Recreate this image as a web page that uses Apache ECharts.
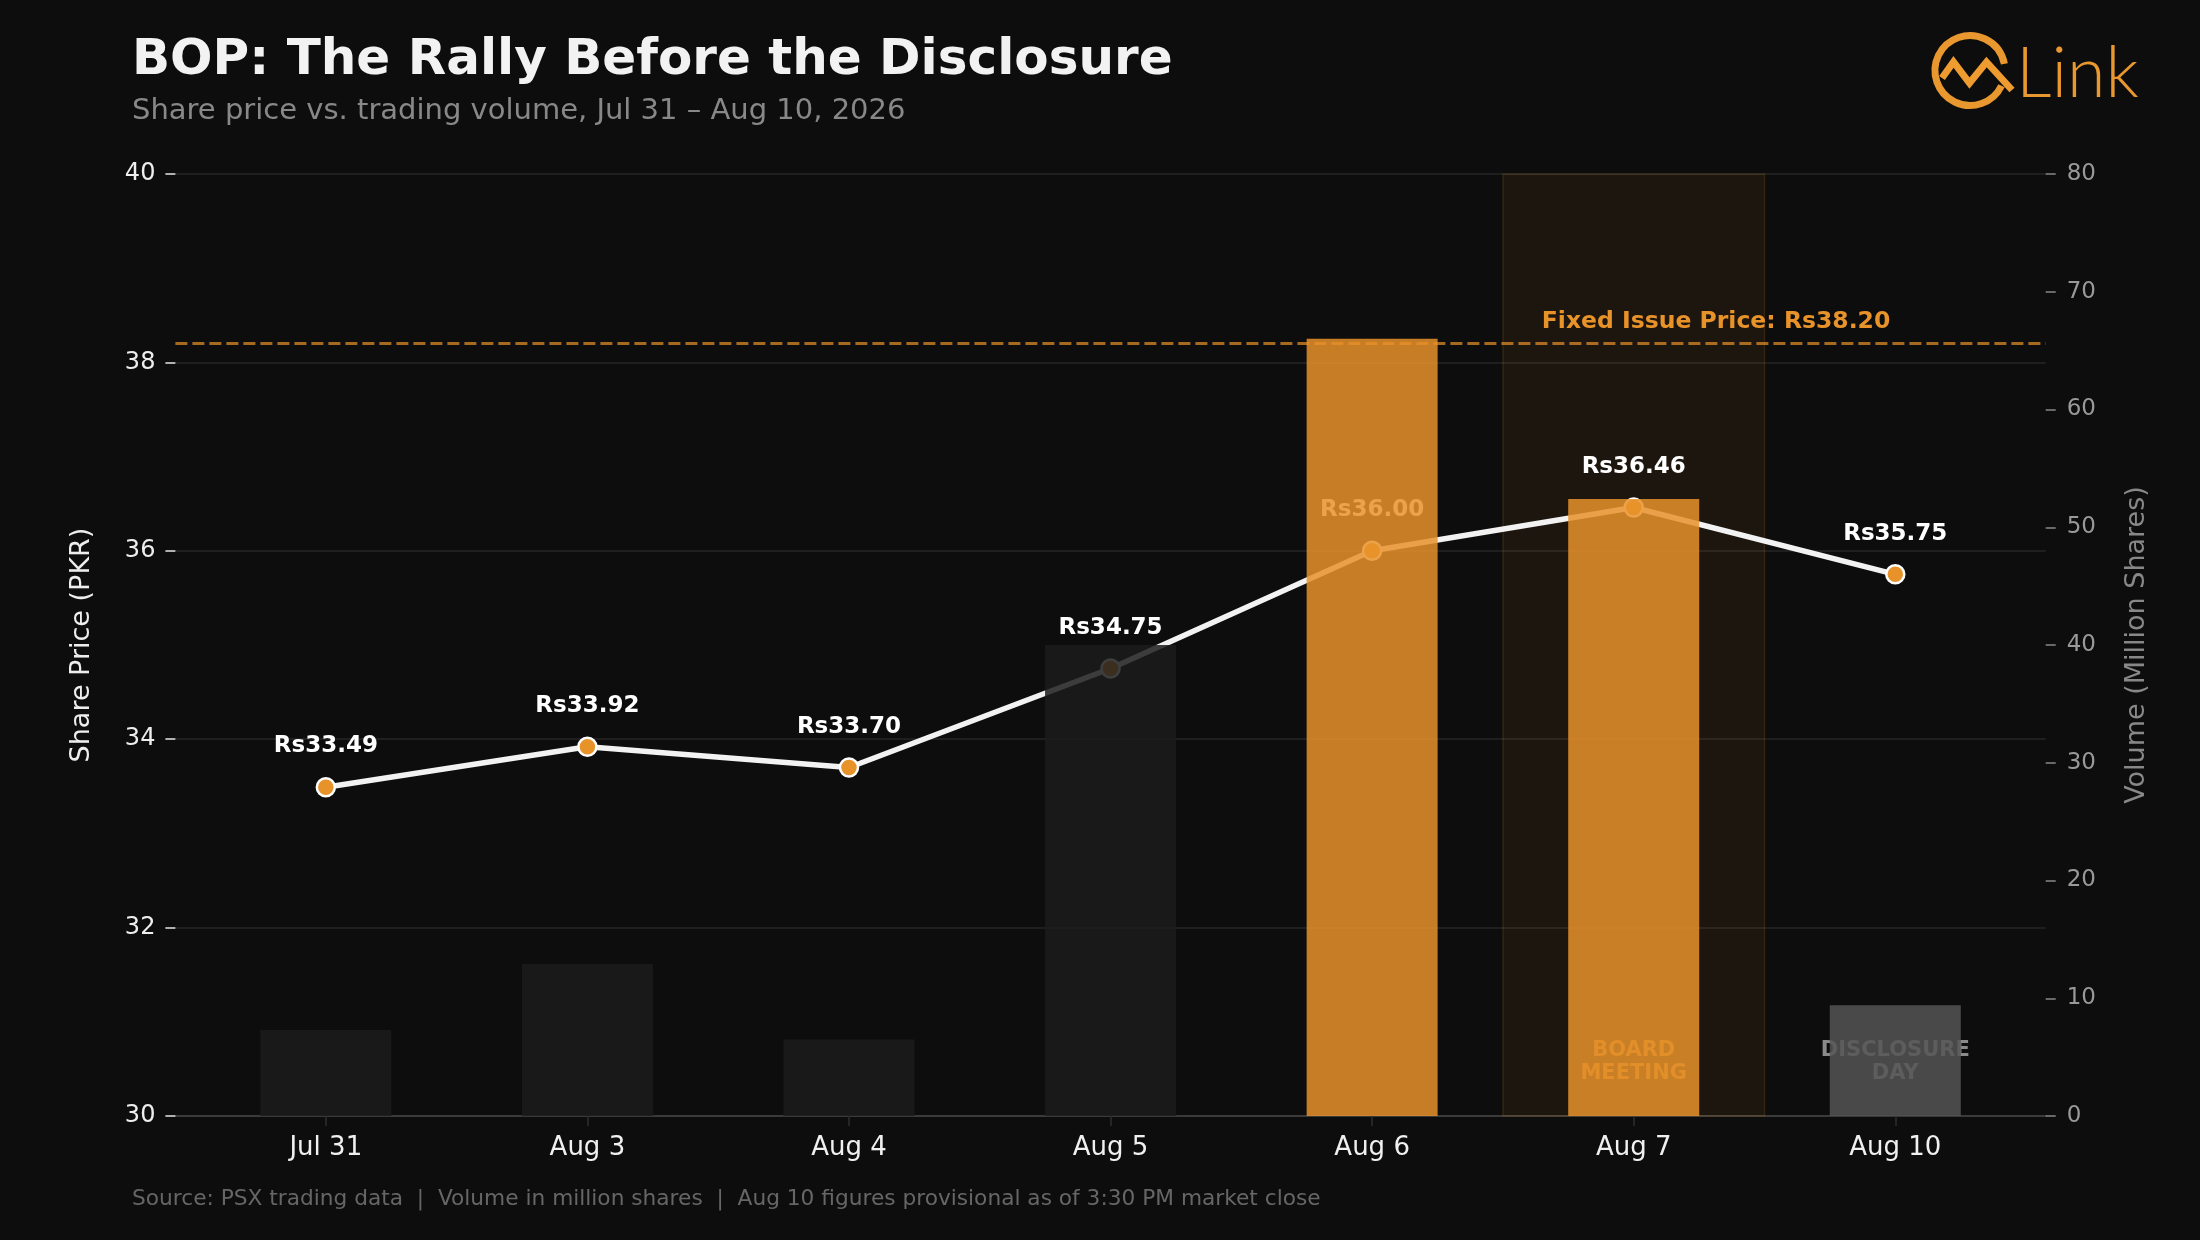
<!DOCTYPE html>
<html>
<head>
<meta charset="utf-8">
<script src="https://cdn.jsdelivr.net/npm/echarts@6/dist/echarts.min.js"></script>
<style>
  html, body { margin: 0; padding: 0; background: #0d0d0d; }
  #chart { width: 2200px; height: 1240px; }
</style>
</head>
<body>
<div id="chart"></div>
<script>
// ---- data ----
const categories = ['Jul 31', 'Aug 3', 'Aug 4', 'Aug 5', 'Aug 6', 'Aug 7', 'Aug 10'];
const priceValues = [33.49, 33.92, 33.70, 34.75, 36.00, 36.46, 35.75];
const volumeValues = [7.3, 12.9, 6.5, 40.0, 66.0, 52.4, 9.4];
const issuePrice = 38.20;
const highlightDays = ['Aug 6', 'Aug 7'];
const disclosureDay = 'Aug 10';
const meetingDay = 'Aug 7';
const noteDays = ['Aug 7', 'Aug 10'];
const noteTexts = ['BOARD\nMEETING', 'DISCLOSURE\nDAY'];

const FONT = '"DejaVu Sans", sans-serif';
const ORANGE = '#E8922A';
const idx = categories.map((_, i) => i);

function barColor(cat) {
  if (highlightDays.includes(cat)) return 'rgba(232,146,42,0.85)';
  if (cat === disclosureDay) return 'rgba(85,85,85,0.85)';
  return 'rgba(28,28,28,0.85)';
}

const mi = categories.indexOf(meetingDay);

const chart = echarts.init(document.getElementById('chart'), null, { renderer: 'canvas' });
chart.setOption({
  animation: false,
  backgroundColor: '#0d0d0d',
  textStyle: { fontFamily: FONT },
  grid: { left: 175.4, right: 154.3, top: 174, bottom: 124, containLabel: false },
  xAxis: {
    type: 'value',
    min: -0.575,
    max: 6.575,
    splitLine: { show: false },
    axisLine: { show: true, onZero: false, lineStyle: { color: '#3a3a3a', width: 2 } },
    axisTick: { show: true, customValues: idx, length: 10, lineStyle: { color: '#2e2e2e', width: 1.5 } },
    axisLabel: {
      customValues: idx,
      formatter: v => categories[Math.round(v)],
      color: '#f0f0f0', fontSize: 26, margin: 19, fontFamily: FONT
    }
  },
  yAxis: [
    {
      type: 'value', min: 30, max: 40, interval: 2, position: 'left',
      axisLine: { show: false, onZero: false },
      axisTick: { show: true, length: 10, lineStyle: { color: '#e6e6e6', width: 1.5 } },
      axisLabel: { color: '#eeeeee', fontSize: 24, margin: 20, fontFamily: FONT },
      splitLine: { show: true, lineStyle: { color: '#262626', width: 1.5 } },
      name: 'Share Price (PKR)', nameLocation: 'middle', nameRotate: 90, nameGap: 80,
      nameTextStyle: { color: '#eeeeee', fontSize: 27, fontFamily: FONT }
    },
    {
      type: 'value', min: 0, max: 80, interval: 10, position: 'right',
      axisLine: { show: false, onZero: false },
      axisTick: { show: true, length: 10, lineStyle: { color: '#888888', width: 1.5 } },
      axisLabel: { color: '#999999', fontSize: 23, margin: 21, fontFamily: FONT },
      splitLine: { show: false },
      name: 'Volume (Million Shares)', nameLocation: 'middle', nameRotate: 90, nameGap: 78,
      nameTextStyle: { color: '#888888', fontSize: 27, fontFamily: FONT }
    }
  ],
  series: [
    {
      name: 'span', type: 'scatter', yAxisIndex: 0, data: [], z: 1, silent: true,
      markArea: {
        silent: true,
        itemStyle: { color: 'rgba(232,146,42,0.08)', borderColor: 'rgba(232,146,42,0.14)', borderWidth: 1.5 },
        data: [[{ xAxis: mi - 0.5 }, { xAxis: mi + 0.5 }]]
      }
    },
    {
      name: 'Price', type: 'line', yAxisIndex: 0, z: 2,
      data: priceValues.map((v, i) => [i, v]),
      lineStyle: { color: '#f2f2f2', width: 5.5 },
      symbol: 'circle', symbolSize: 18,
      itemStyle: { color: ORANGE, borderColor: '#ffffff', borderWidth: 2.5 },
      label: {
        show: true, position: 'top', distance: 19,
        formatter: p => 'Rs' + p.value[1].toFixed(2),
        color: '#ffffff', fontSize: 23, fontWeight: 'bold', fontFamily: FONT
      },
      markLine: {
        silent: true, symbol: ['none', 'none'],
        lineStyle: { color: 'rgba(232,146,42,0.7)', type: [12, 5], width: 3 },
        label: { show: false },
        data: [{ yAxis: issuePrice }]
      },
      markPoint: {
        silent: true, symbol: 'circle', symbolSize: 0,
        data: [{ coord: [categories.length - 1, issuePrice] }],
        label: {
          show: true, position: 'left', distance: 5, offset: [0, -22],
          formatter: () => 'Fixed Issue Price: Rs' + issuePrice.toFixed(2),
          color: ORANGE, fontSize: 23.5, fontWeight: 'bold', fontFamily: FONT
        }
      }
    },
    {
      name: 'notes', type: 'scatter', yAxisIndex: 1, z: 2, symbolSize: 0, silent: true,
      data: noteDays.map((d, k) => ({
        value: [categories.indexOf(d), 4.6],
        label: { color: k === 0 ? ORANGE : '#aaaaaa', formatter: noteTexts[k] }
      })),
      label: {
        show: true, position: 'inside', align: 'center', verticalAlign: 'middle',
        fontSize: 21, fontWeight: 'bold', lineHeight: 23, fontFamily: FONT
      }
    },
    {
      name: 'Volume', type: 'bar', yAxisIndex: 1, z: 3, barWidth: 131,
      data: volumeValues.map((v, i) => ({ value: [i, v], itemStyle: { color: barColor(categories[i]) } }))
    }
  ],
  graphic: [
    { type: 'text', x: 132, y: 61.5, style: { text: 'BOP: The Rally Before the Disclosure', fill: '#f2f2f2', fontSize: 50, fontWeight: 'bold', fontFamily: FONT, verticalAlign: 'middle', align: 'left' } },
    { type: 'text', x: 132, y: 111, style: { text: 'Share price vs. trading volume, Jul 31 \u2013 Aug 10, 2026', fill: '#888888', fontSize: 29, fontFamily: FONT, verticalAlign: 'middle', align: 'left' } },
    { type: 'text', x: 132, y: 1199, style: { text: 'Source: PSX trading data  |  Volume in million shares  |  Aug 10 figures provisional as of 3:30 PM market close', fill: '#666666', fontSize: 21.7, fontFamily: FONT, verticalAlign: 'middle', align: 'left' } },
    { type: 'arc', shape: { cx: 1970, cy: 70.5, r: 35, startAngle: 0.45, endAngle: Math.PI * 2 - 0.19, clockwise: true }, style: { stroke: '#E9972F', lineWidth: 7, fill: null } },
    { type: 'polyline', shape: { points: [[1942, 78], [1953.5, 62], [1969.5, 83], [1986.5, 62], [2012, 90]] }, style: { stroke: '#EE9C30', lineWidth: 7, fill: null, lineJoin: 'miter' } },
    { type: 'text', x: 2016, y: 74, style: { text: 'Link', fill: '#E9972F', fontSize: 70, fontWeight: 300, fontFamily: 'Lato, "Open Sans", sans-serif', verticalAlign: 'middle', align: 'left' } }
  ]
});
</script>
</body>
</html>
